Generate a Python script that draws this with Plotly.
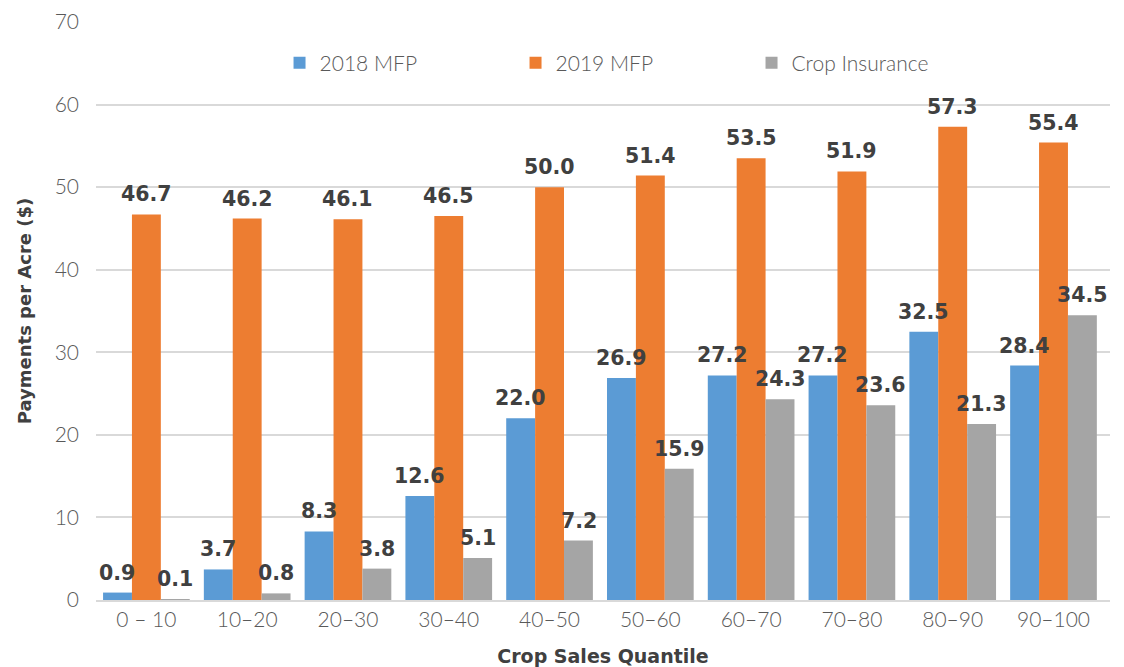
import plotly.graph_objects as go

categories = ["0 – 10", "10–20", "20–30", "30–40", "40–50", "50–60", "60–70", "70–80", "80–90", "90–100"]
mfp_2018 = [0.9, 3.7, 8.3, 12.6, 22.0, 26.9, 27.2, 27.2, 32.5, 28.4]
mfp_2019 = [46.7, 46.2, 46.1, 46.5, 50.0, 51.4, 53.5, 51.9, 57.3, 55.4]
crop_ins = [0.1, 0.8, 3.8, 5.1, 7.2, 15.9, 24.3, 23.6, 21.3, 34.5]

series = [
    ("2018 MFP", mfp_2018, "#5B9BD5"),
    ("2019 MFP", mfp_2019, "#ED7D31"),
    ("Crop Insurance", crop_ins, "#A5A5A5"),
]
label_shift = [-29, 0, 29]

LIGHT = "Lato"
BOLD = "DejaVu Sans"
fig = go.Figure()
for (name, vals, col), dx in zip(series, label_shift):
    fig.add_trace(go.Bar(
        x=categories, y=vals, name=name,
        marker=dict(color=col, line=dict(width=0)),
    ))
    for c, v in zip(categories, vals):
        fig.add_annotation(
            x=c, y=v, xref="x", yref="y", text=f"{v:.1f}",
            showarrow=False, xanchor="center", yanchor="bottom",
            xshift=dx, yshift=6,
            font=dict(family=BOLD, size=20.5, color="#404040", weight="bold"),
        )

fig.update_layout(
    width=1124, height=667,
    margin=dict(l=96, r=14, t=22, b=67, autoexpand=False),
    paper_bgcolor="white", plot_bgcolor="white",
    barmode="group", bargap=0.14, bargroupgap=0,
    showlegend=True,
    legend=dict(
        orientation="h", x=0.181, xanchor="left", y=0.929, yanchor="middle",
        font=dict(family=LIGHT, size=21, color="#595959", weight=300),
        entrywidth=191, itemwidth=30, bgcolor="rgba(0,0,0,0)",
        traceorder="normal",
    ),
    font=dict(family=LIGHT, color="#595959"),
)
fig.update_yaxes(
    range=[0, 70], dtick=10, tick0=0, automargin=False,
    showgrid=True, gridcolor="#d9d9d9", gridwidth=2,
    zeroline=False, showline=False, ticks="",
    tickfont=dict(family=LIGHT, size=21, color="#595959", weight=300),
    ticklabelstandoff=16,
    title=dict(text="Payments per Acre ($)", standoff=18,
               font=dict(family=BOLD, size=18, color="#404040", weight="bold")),
)
fig.update_xaxes(
    showline=True, linecolor="#d9d9d9", linewidth=2, automargin=False,
    ticks="", showgrid=False,
    tickfont=dict(family=LIGHT, size=21, color="#595959", weight=300),
    ticklabelstandoff=0,
    title=dict(text="Crop Sales Quantile", standoff=20,
               font=dict(family=BOLD, size=19, color="#404040", weight="bold")),
)

fig.write_html("out.html")
